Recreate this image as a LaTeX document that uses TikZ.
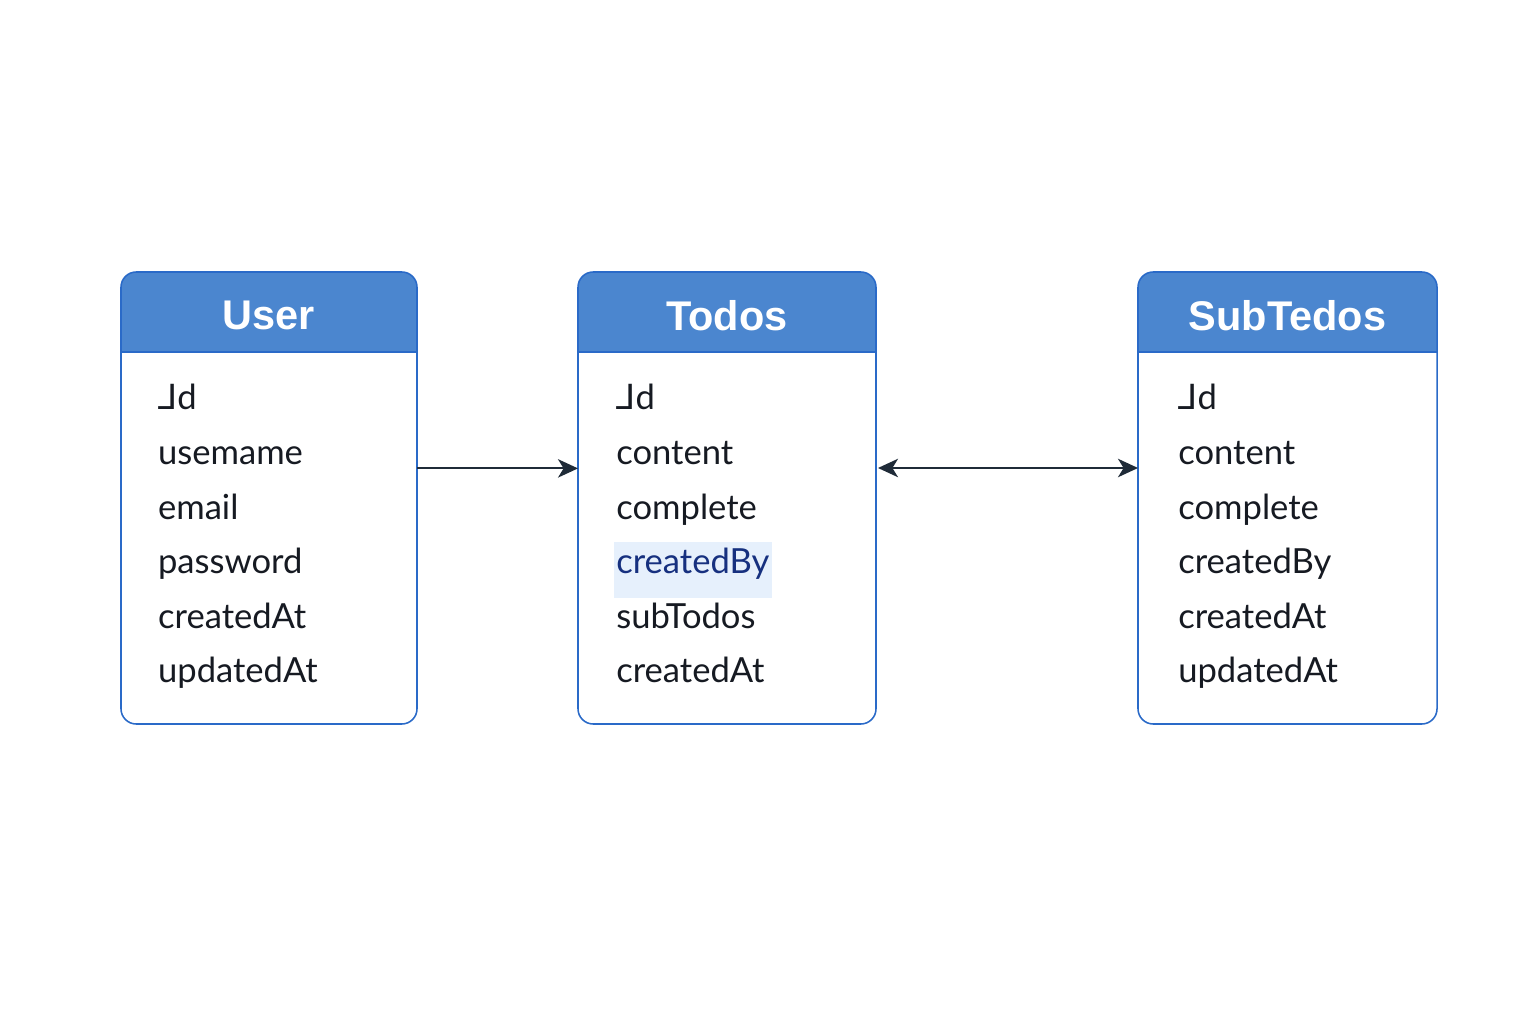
\documentclass[tikz,border=0pt]{standalone}
\usepackage{fontspec}
\setmainfont{Lato}
\newfontfamily\hdrfont{Liberation Sans}
\newfontfamily\symfont{DejaVu Sans}
\usetikzlibrary{arrows.meta,positioning}

\definecolor{hdrblue}{HTML}{4B86CF}
\definecolor{edgeblue}{HTML}{2A6AC8}
\definecolor{inkdark}{HTML}{161A22}
\definecolor{arrowdark}{HTML}{1F2B38}
\definecolor{hlfill}{HTML}{E6F0FC}
\definecolor{hltext}{HTML}{16307F}

\newcommand{\idmark}{{\symfont ⅃}d}

\tikzset{
	tbl/.style={minimum width=#1,minimum height=11.3cm,inner sep=0pt,outer sep=0pt},
	tblborder/.style={draw=edgeblue,line width=1.1pt,rounded corners=0.38cm},
	title/.style={text=white,font=\hdrfont\bfseries\fontsize{29.5}{33}\selectfont},
	field/.style={anchor=west,inner sep=0pt,text=inkdark,text height=1ex,text depth=0pt,
		font=\fontsize{24.6}{28}\selectfont},
	hlfield/.style={field,fill=hlfill,text=hltext,inner xsep=0.06cm,xshift=-0.06cm,minimum height=1.4cm},
	link/.style={draw=arrowdark,line width=1.4pt,-{Stealth[length=0.5cm,width=0.46cm,inset=0.14cm]}},
	biglink/.style={link,{Stealth[length=0.5cm,width=0.46cm,inset=0.14cm]}-{Stealth[length=0.5cm,width=0.46cm,inset=0.14cm]}}
}

\begin{document}
\begin{tikzpicture}
	\fill[white] (0,0) rectangle (38.4,25.6);
	\useasboundingbox (0,0) rectangle (38.4,25.6);

	% the three tables
	\foreach \tb/\cx/\w/\ttl in {user/6.725/7.4cm/User,todos/18.175/7.45cm/Todos,sub/32.1875/7.475cm/SubTedos}{
		\node (\tb) [tbl=\w] at (\cx,13.15) {};
		\begin{scope}
			\clip[rounded corners=0.38cm] (\tb.south west) rectangle (\tb.north east);
			\fill[hdrblue] (\tb.north west) rectangle ([yshift=-2cm]\tb.north east);
		\end{scope}
		\draw[edgeblue,line width=1.1pt] ([yshift=-2cm]\tb.north west) -- ([yshift=-2cm]\tb.north east);
		\draw[tblborder] (\tb.south west) rectangle (\tb.north east);
		\node (\tb-title) [title] at ([yshift=-1.08cm]\tb.north) {\ttl};
	}

	% fields
	\foreach \t[count=\i] in {\idmark,usemame,email,password,createdAt,updatedAt}
	\node (user-\i) [field] at ([xshift=0.92cm,yshift={-3.36cm-(\i-1)*1.365cm}]user.north west) {\t};

	\foreach \t/\s[count=\i] in {\idmark/field,content/field,complete/field,createdBy/hlfield,subTodos/field,createdAt/field}
	\node (todos-\i) [\s] at ([xshift=0.95cm,yshift={-3.36cm-(\i-1)*1.365cm}]todos.north west) {\t};

	\foreach \t[count=\i] in {\idmark,content,complete,createdBy,createdAt,updatedAt}
	\node (sub-\i) [field] at ([xshift=1cm,yshift={-3.36cm-(\i-1)*1.365cm}]sub.north west) {\t};

	% links
	\coordinate (u2t) at ([yshift=0.74cm]user.east);
	\coordinate (t2s) at ([yshift=0.75cm]todos.east);
	\draw[link] (u2t) -- (u2t -| todos.west);
	\draw[biglink] ([xshift=0.05cm]t2s) -- (t2s -| sub.west);
\end{tikzpicture}
\end{document}
